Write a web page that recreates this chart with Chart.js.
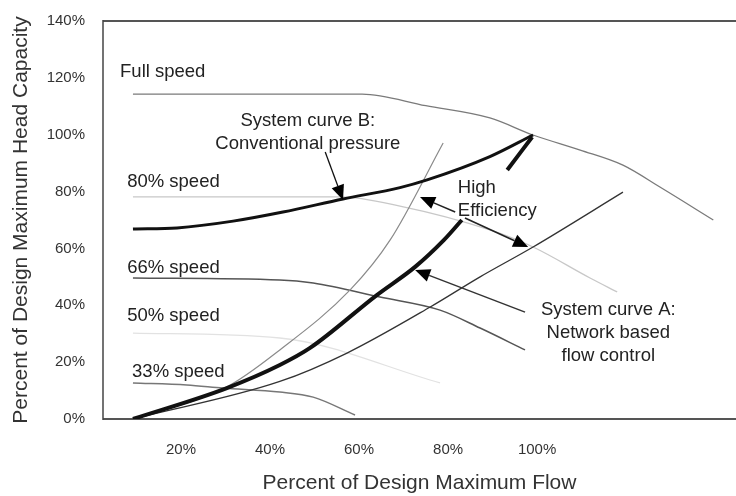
<!DOCTYPE html>
<html>
<head>
<meta charset="utf-8">
<script src="https://cdn.jsdelivr.net/npm/chart.js@4.4.1/dist/chart.umd.min.js"></script>
<style>
html,body{margin:0;padding:0;background:#fff;}
#wrap{width:736px;height:496px;position:relative;}
canvas{display:block;}
</style>
</head>
<body>
<div id="wrap"><canvas id="c" width="736" height="496" style="width:736px;height:496px"></canvas></div>
<script>
// ---- Tick labels ----
const xTickValues = [20, 40, 60, 80, 100];
const yTickValues = [0, 20, 40, 60, 80, 100, 120, 140];

// ---- Series (percent of design max flow, percent of design max head) ----
const fullSpeedFlow = [9.2, 30, 60.7, 75, 89.4, 99.1, 109.7, 119.3, 127.6, 139.6];
const fullSpeedHead = [114.3, 114.3, 114.3, 110.2, 105.9, 99.9, 94.6, 89.3, 81.6, 70.0];

const speed80Flow = [9.2, 55.7, 69.2, 89.4, 99.1, 111.9, 118.0];
const speed80Head = [78.1, 78.1, 74.9, 66.5, 60.5, 49.6, 44.7];

const speed66Flow = [9.2, 42.2, 49.7, 64.7, 78.2, 87.2, 97.3];
const speed66Head = [49.6, 48.9, 47.8, 42.9, 38.3, 32.0, 24.3];

const speed50Flow = [9.2, 42.2, 78.2];
const speed50Head = [30.2, 28.5, 12.7];

const speed33Flow = [9.2, 21.3, 29.4, 42.2, 49.7, 59.1];
const speed33Head = [12.7, 12.0, 10.9, 9.5, 7.7, 1.4];

const curveBFlow = [9.2, 19.1, 31.7, 42.9, 56.4, 69.2, 75.3, 89.4, 99.1];
const curveBHead = [66.8, 67.2, 69.6, 72.8, 77.4, 81.4, 84.1, 92.3, 99.9];

const curveAFlow = [9.2, 30.3, 42.2, 49.0, 64.0, 72.6, 79.1, 83.1];
const curveAHead = [0, 10.9, 19.0, 25.0, 43.6, 53.5, 63.0, 70.0];

const steepFlow = [9.2, 30.3, 42.2, 58.0, 67.0, 78.9];
const steepHead = [0, 11.3, 24.3, 45.4, 63.0, 97.1];

const shallowFlow = [9.2, 42.2, 57.3, 76.0, 87.2, 99.1, 119.3];
const shallowHead = [0, 13.2, 23.2, 39.4, 50.0, 60.5, 79.8];

const pointerFlow = [93.3, 98.9];
const pointerHead = [87.6, 99.2];

// ---- Annotation texts and arrows (data coordinates) ----
const FONT = "'Liberation Sans', Arial, sans-serif";
const noteTexts = [
  {lines: ['Full speed'], x: 6.3, y: 120.3, align: 'left'},
  {lines: ['System curve B:', 'Conventional pressure'], x: 48.5, y: 103.1, align: 'center'},
  {lines: ['80% speed'], x: 7.9, y: 81.6, align: 'left'},
  {lines: ['High', 'Efficiency'], x: 82.2, y: 79.5, align: 'left'},
  {lines: ['66% speed'], x: 7.9, y: 51.4, align: 'left'},
  {lines: ['50% speed'], x: 7.9, y: 34.5, align: 'left'},
  {lines: ['33% speed'], x: 9.0, y: 14.8, align: 'left'},
  {lines: ['System curve A:', 'Network based', 'flow control'], x: 116.0, y: 36.6, align: 'center'}
];
const noteArrows = [
  {from: [52.4, 93.9], to: [56.4, 77.0], color: '#111', width: 1.3},
  {from: [81.6, 72.8], to: [73.7, 78.1], color: '#222', width: 1.6},
  {from: [83.8, 70.7], to: [98.0, 60.5], color: '#222', width: 1.6},
  {from: [97.3, 37.6], to: [72.6, 52.4], color: '#333', width: 1.5}
];

function series(label, xs, ys, color, width) {
  return {
    label: label,
    data: xs.map((v, i) => ({x: v, y: ys[i]})),
    borderColor: color,
    backgroundColor: color,
    borderWidth: width,
    pointRadius: 0,
    fill: false,
    cubicInterpolationMode: 'monotone'
  };
}

const annotate = {
  id: 'annotate',
  beforeDatasetsDraw(chart) {
    const {ctx, chartArea: a} = chart;
    ctx.save();
    ctx.strokeStyle = '#555';
    ctx.lineWidth = 2;
    ctx.beginPath();
    ctx.moveTo(a.left, a.top); ctx.lineTo(a.right, a.top);
    ctx.moveTo(a.left, a.bottom); ctx.lineTo(a.right, a.bottom);
    ctx.stroke();
    ctx.strokeStyle = '#444';
    ctx.lineWidth = 1.5;
    ctx.beginPath();
    ctx.moveTo(a.left, a.top - 1); ctx.lineTo(a.left, a.bottom + 1);
    ctx.stroke();
    ctx.restore();
  },
  afterDatasetsDraw(chart) {
    const {ctx, scales: {x, y}} = chart;
    ctx.save();
    ctx.fillStyle = '#222';
    ctx.font = '18.5px ' + FONT;
    ctx.textBaseline = 'alphabetic';
    noteTexts.forEach(t => {
      ctx.textAlign = t.align;
      const px = x.getPixelForValue(t.x);
      const py = y.getPixelForValue(t.y);
      t.lines.forEach((ln, i) => ctx.fillText(ln, px, py + i * 23));
    });
    noteArrows.forEach(ar => {
      const x1 = x.getPixelForValue(ar.from[0]), y1 = y.getPixelForValue(ar.from[1]);
      const x2 = x.getPixelForValue(ar.to[0]), y2 = y.getPixelForValue(ar.to[1]);
      const ang = Math.atan2(y2 - y1, x2 - x1);
      const L = 15, W = 6.5;
      const bx = x2 - L * Math.cos(ang), by = y2 - L * Math.sin(ang);
      ctx.strokeStyle = ar.color;
      ctx.fillStyle = '#000';
      ctx.lineWidth = ar.width;
      ctx.beginPath();
      ctx.moveTo(x1, y1); ctx.lineTo(bx, by);
      ctx.stroke();
      ctx.beginPath();
      ctx.moveTo(x2, y2);
      ctx.lineTo(bx + W * Math.sin(ang), by - W * Math.cos(ang));
      ctx.lineTo(bx - W * Math.sin(ang), by + W * Math.cos(ang));
      ctx.closePath();
      ctx.fill();
    });
    ctx.restore();
  }
};

new Chart(document.getElementById('c'), {
  type: 'line',
  data: {
    datasets: [
      series('Design point pointer', pointerFlow, pointerHead, '#111', 4),
      series('System curve A', curveAFlow, curveAHead, '#111', 4),
      series('System curve B', curveBFlow, curveBHead, '#111', 3),
      series('Steep curve', steepFlow, steepHead, '#8a8a8a', 1.2),
      series('Shallow curve', shallowFlow, shallowHead, '#333', 1.3),
      series('Full speed', fullSpeedFlow, fullSpeedHead, '#7a7a7a', 1.3),
      series('80% speed', speed80Flow, speed80Head, '#c8c8c8', 1.3),
      series('66% speed', speed66Flow, speed66Head, '#555', 1.5),
      series('50% speed', speed50Flow, speed50Head, '#e2e2e2', 1.3),
      series('33% speed', speed33Flow, speed33Head, '#777', 1.5)
    ]
  },
  options: {
    responsive: false,
    animation: false,
    layout: {padding: {top: 21, right: 0, bottom: 0, left: 0}},
    plugins: {legend: {display: false}, tooltip: {enabled: false}},
    scales: {
      x: {
        type: 'linear',
        min: 2.47,
        max: 144.7,
        afterBuildTicks: s => { s.ticks = xTickValues.map(v => ({value: v})); },
        afterFit: s => { s.height = 77; s.paddingLeft = 0; s.paddingRight = 0; },
        grid: {display: false, drawTicks: false},
        border: {display: false},
        ticks: {padding: 22, color: '#333', font: {family: FONT, size: 15}, callback: v => v + '%', maxRotation: 0},
        title: {display: true, text: 'Percent of Design Maximum Flow', color: '#333', font: {family: FONT, size: 21}, padding: {top: 0, bottom: 0}}
      },
      y: {
        type: 'linear',
        min: 0,
        max: 140,
        afterBuildTicks: s => { s.ticks = yTickValues.map(v => ({value: v})); },
        afterFit: s => { s.width = 103; s.paddingTop = 0; s.paddingBottom = 0; },
        grid: {display: false, drawTicks: false},
        border: {display: false},
        ticks: {padding: 18, color: '#333', font: {family: FONT, size: 15}, callback: v => v + '%'},
        title: {display: true, text: 'Percent of Design Maximum Head Capacity', color: '#333', font: {family: FONT, size: 21}, padding: {top: 9, bottom: 0}}
      }
    }
  },
  plugins: [annotate]
});
</script>
</body>
</html>
